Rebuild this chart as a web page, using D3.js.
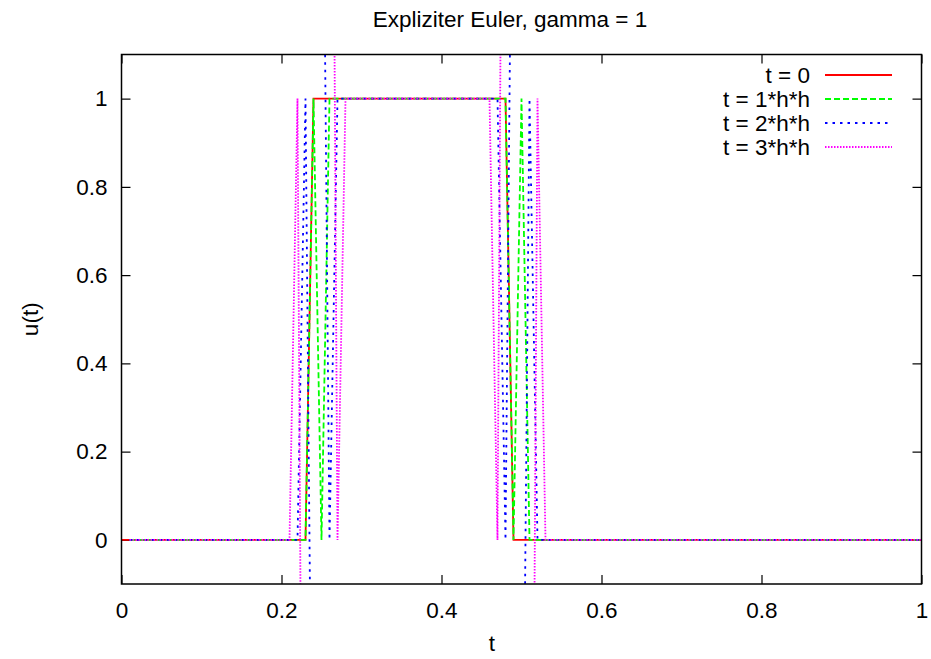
<!DOCTYPE html>
<html>
<head>
<meta charset="utf-8">
<script src="https://cdn.jsdelivr.net/npm/d3@7"></script>
<style>
  html, body { margin: 0; padding: 0; background: #fff; }
  svg { display: block; font-family: "Liberation Sans", Arial, sans-serif; }
</style>
</head>
<body>
<svg id="chart" width="931" height="659"></svg>
<script>
// ---- data ----
const title = "Expliziter Euler, gamma = 1";
const xLabel = "t";
const yLabel = "u(t)";
const xTicks = [0, 0.2, 0.4, 0.6, 0.8, 1];
const xTickLabels = ["0", "0.2", "0.4", "0.6", "0.8", "1"];
const yTicks = [0, 0.2, 0.4, 0.6, 0.8, 1];
const yTickLabels = ["0", "0.2", "0.4", "0.6", "0.8", "1"];
const seriesNames = ["t = 0", "t = 1*h*h", "t = 2*h*h", "t = 3*h*h"];
const seriesColors = ["#ff0000", "#00ff00", "#0000ff", "#ff00ff"];

// grid positions (x) for t = 0 : 0.00 ... 1.00, step 0.01
const xGrid0 = [
0.00,0.01,0.02,0.03,0.04,0.05,0.06,0.07,0.08,0.09,
0.10,0.11,0.12,0.13,0.14,0.15,0.16,0.17,0.18,0.19,
0.20,0.21,0.22,0.23,0.24,0.25,0.26,0.27,0.28,0.29,
0.30,0.31,0.32,0.33,0.34,0.35,0.36,0.37,0.38,0.39,
0.40,0.41,0.42,0.43,0.44,0.45,0.46,0.47,0.48,0.49,
0.50,0.51,0.52,0.53,0.54,0.55,0.56,0.57,0.58,0.59,
0.60,0.61,0.62,0.63,0.64,0.65,0.66,0.67,0.68,0.69,
0.70,0.71,0.72,0.73,0.74,0.75,0.76,0.77,0.78,0.79,
0.80,0.81,0.82,0.83,0.84,0.85,0.86,0.87,0.88,0.89,
0.90,0.91,0.92,0.93,0.94,0.95,0.96,0.97,0.98,0.99,
1.00];
// grid positions (x) for later steps : 0.01 ... 1.00
const xGrid1 = xGrid0.slice(1);

// t = 0  (x = 0.00 ... 1.00)
const u0 = [
0,0,0,0,0,0,0,0,0,0,
0,0,0,0,0,0,0,0,0,0,
0,0,0,0,1,1,1,1,1,1,
1,1,1,1,1,1,1,1,1,1,
1,1,1,1,1,1,1,1,1,0,
0,0,0,0,0,0,0,0,0,0,
0,0,0,0,0,0,0,0,0,0,
0,0,0,0,0,0,0,0,0,0,
0,0,0,0,0,0,0,0,0,0,
0,0,0,0,0,0,0,0,0,0,
0];
// t = 1*h*h  (x = 0.01 ... 1.00)
const u1 = [
0,0,0,0,0,0,0,0,0,
0,0,0,0,0,0,0,0,0,0,
0,0,0,0,1,0,1,1,1,1,
1,1,1,1,1,1,1,1,1,1,
1,1,1,1,1,1,1,1,1,0,
1,0,0,0,0,0,0,0,0,0,
0,0,0,0,0,0,0,0,0,0,
0,0,0,0,0,0,0,0,0,0,
0,0,0,0,0,0,0,0,0,0,
0,0,0,0,0,0,0,0,0,0,
0];
// t = 2*h*h  (x = 0.01 ... 1.00)
const u2 = [
0,0,0,0,0,0,0,0,0,
0,0,0,0,0,0,0,0,0,0,
0,0,0,1,-1,2,0,1,1,1,
1,1,1,1,1,1,1,1,1,1,
1,1,1,1,1,1,1,1,0,2,
-1,1,0,0,0,0,0,0,0,0,
0,0,0,0,0,0,0,0,0,0,
0,0,0,0,0,0,0,0,0,0,
0,0,0,0,0,0,0,0,0,0,
0,0,0,0,0,0,0,0,0,0,
0];
// t = 3*h*h  (x = 0.01 ... 1.00)
const u3 = [
0,0,0,0,0,0,0,0,0,
0,0,0,0,0,0,0,0,0,0,
0,0,1,-2,4,-3,3,0,1,1,
1,1,1,1,1,1,1,1,1,1,
1,1,1,1,1,1,1,0,3,-3,
4,-2,1,0,0,0,0,0,0,0,
0,0,0,0,0,0,0,0,0,0,
0,0,0,0,0,0,0,0,0,0,
0,0,0,0,0,0,0,0,0,0,
0,0,0,0,0,0,0,0,0,0,
0];

const series = [
  { name: seriesNames[0], color: seriesColors[0], xs: xGrid0, ys: u0, dash: null },
  { name: seriesNames[1], color: seriesColors[1], xs: xGrid1, ys: u1, dash: "6,3" },
  { name: seriesNames[2], color: seriesColors[2], xs: xGrid1, ys: u2, dash: "2.5,5" },
  { name: seriesNames[3], color: seriesColors[3], xs: xGrid1, ys: u3, dash: "1.5,1.5" }
];

// ---- layout ----
const FS = 22.5;
const svg = d3.select("#chart");
const pL = 121.5, pR = 921.5, pT = 54.5, pB = 584;
const yMin = -0.1, yMax = 1.1;
const x = d3.scaleLinear().domain([0, 1]).range([pL, pR]);
const y = d3.scaleLinear().domain([yMin, yMax]).range([pB, pT]);

svg.append("rect").attr("width", 931).attr("height", 659).attr("fill", "#fff");

svg.append("defs").append("clipPath").attr("id", "clip")
  .append("rect").attr("x", pL).attr("y", pT)
  .attr("width", pR - pL).attr("height", pB - pT);

// axes (gnuplot style: inward ticks, mirrored)
const tickLen = 9;
const axB = d3.axisBottom(x).tickValues(xTicks).tickSize(-tickLen).tickFormat((d, i) => xTickLabels[i]).tickPadding(18);
const axT = d3.axisTop(x).tickValues(xTicks).tickSize(-tickLen).tickFormat("");
const axL = d3.axisLeft(y).tickValues(yTicks).tickSize(-tickLen).tickFormat((d, i) => yTickLabels[i]).tickPadding(14);
const axR = d3.axisRight(y).tickValues(yTicks).tickSize(-tickLen).tickFormat("");

function style(g) {
  g.select(".domain").remove();
  g.selectAll(".tick line").attr("stroke", "#000").attr("stroke-width", 1.2);
  g.selectAll(".tick text").attr("fill", "#000").attr("font-size", FS)
    .attr("font-family", "Liberation Sans, Arial, sans-serif");
}
svg.append("g").attr("transform", `translate(0,${pB})`).call(axB).call(style);
svg.append("g").attr("transform", `translate(0,${pT})`).call(axT).call(style);
svg.append("g").attr("transform", `translate(${pL},0)`).call(axL).call(style);
svg.append("g").attr("transform", `translate(${pR},0)`).call(axR).call(style);

// lines — like gnuplot's default clipping: a segment whose two ends both lie
// outside the y range is not drawn at all.
const inRange = v => v >= yMin && v <= yMax;
const plot = svg.append("g").attr("clip-path", "url(#clip)");
const line = d3.line().x(d => x(d[0])).y(d => y(d[1]));
series.forEach(s => {
  const pts = s.xs.map((xv, i) => [xv, s.ys[i]]);
  const runs = [];
  let cur = null;
  for (let i = 0; i < pts.length - 1; i++) {
    const a = pts[i], b = pts[i + 1];
    if (inRange(a[1]) || inRange(b[1])) {
      if (!cur) { cur = [a]; runs.push(cur); }
      cur.push(b);
    } else {
      cur = null;
    }
  }
  runs.forEach(r => {
    const p = plot.append("path").datum(r)
      .attr("d", line).attr("fill", "none")
      .attr("stroke", s.color).attr("stroke-width", 1.8);
    if (s.dash) p.attr("stroke-dasharray", s.dash);
  });
});

// border
svg.append("rect").attr("x", pL).attr("y", pT)
  .attr("width", pR - pL).attr("height", pB - pT)
  .attr("fill", "none").attr("stroke", "#000").attr("stroke-width", 1.5);

// legend
const legX = 810, legLine0 = 825, legLine1 = 892, legY0 = 75, legDY = 24;
series.forEach((s, i) => {
  const yy = legY0 + i * legDY;
  svg.append("text").attr("x", legX).attr("y", yy).attr("dy", "0.36em")
    .attr("text-anchor", "end").attr("font-size", FS).text(s.name);
  const l = svg.append("line").attr("x1", legLine0).attr("x2", legLine1)
    .attr("y1", yy).attr("y2", yy).attr("stroke", s.color).attr("stroke-width", 1.8);
  if (s.dash) l.attr("stroke-dasharray", s.dash);
});

// titles
svg.append("text").attr("x", 510).attr("y", 27)
  .attr("text-anchor", "middle").attr("font-size", FS).text(title);
svg.append("text").attr("x", 492).attr("y", 651)
  .attr("text-anchor", "middle").attr("font-size", FS).text(xLabel);
svg.append("text").attr("transform", `translate(38,${(pT + pB) / 2}) rotate(-90)`)
  .attr("text-anchor", "middle").attr("font-size", FS).text(yLabel);
</script>
</body>
</html>
